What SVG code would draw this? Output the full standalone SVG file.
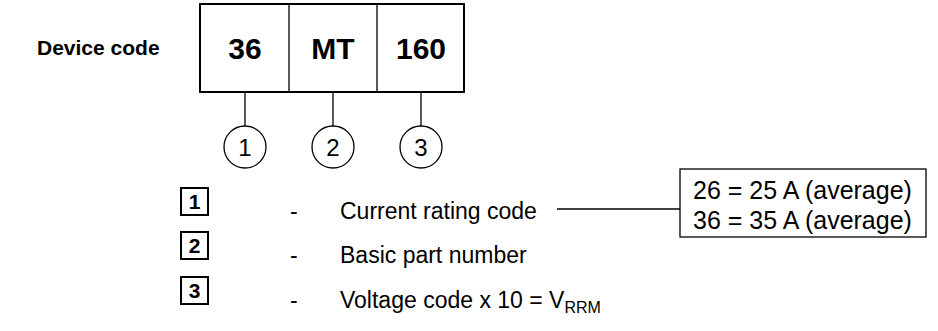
<svg xmlns="http://www.w3.org/2000/svg" width="938" height="331" viewBox="0 0 938 331">
<style>
text{font-family:"Liberation Sans",Arial,sans-serif;fill:#000}
.b{font-weight:bold}
.ln{stroke:#000;stroke-width:1.3;fill:none}
.bx{stroke:#000;stroke-width:2;fill:#fff}
.sb{stroke:#000;stroke-width:2;fill:#fff}
.c{stroke:#000;stroke-width:1.3;fill:#fff}
.t{font-size:23px}
.r{font-size:25px}
</style>
<rect width="938" height="331" fill="#fff"/>
<g id="label"><text x="37" y="55" class="b" font-size="21">Device code</text></g>
<g id="code-box">
<rect class="bx" x="200" y="4" width="264" height="88"/>
<line class="ln" x1="289" y1="4" x2="289" y2="92"/>
<line class="ln" x1="377" y1="4" x2="377" y2="92"/>
<text x="245" y="59" class="b" font-size="30" text-anchor="middle">36</text>
<text x="333" y="59" class="b" font-size="30" text-anchor="middle">MT</text>
<text x="421" y="59" class="b" font-size="30" text-anchor="middle">160</text>
</g>
<g id="connectors">
<line class="ln" x1="245" y1="92" x2="245" y2="127"/>
<line class="ln" x1="333" y1="92" x2="333" y2="127"/>
<line class="ln" x1="421" y1="92" x2="421" y2="127"/>
<line class="ln" x1="557" y1="209" x2="680" y2="209"/>
</g>
<g id="c1"><circle class="c" cx="245" cy="147" r="21"/><text x="245" y="156" font-size="24" text-anchor="middle">1</text></g>
<g id="c2"><circle class="c" cx="333" cy="147" r="21"/><text x="333" y="156" font-size="24" text-anchor="middle">2</text></g>
<g id="c3"><circle class="c" cx="421" cy="147" r="21"/><text x="421" y="156" font-size="24" text-anchor="middle">3</text></g>
<g id="k1"><rect class="sb" x="181" y="188" width="27" height="27"/><text x="194.5" y="209" class="b" font-size="21" text-anchor="middle">1</text>
<text x="290" y="219" class="t">-</text><text x="340" y="219" class="t">Current rating code</text></g>
<g id="k2"><rect class="sb" x="181" y="232" width="27" height="27"/><text x="194.5" y="253" class="b" font-size="21" text-anchor="middle">2</text>
<text x="290" y="263" class="t">-</text><text x="340" y="263" class="t">Basic part number</text></g>
<g id="k3"><rect class="sb" x="181" y="277" width="27" height="27"/><text x="194.5" y="298" class="b" font-size="21" text-anchor="middle">3</text>
<text x="290" y="308" class="t">-</text><text x="340" y="308" class="t">Voltage code x 10 = V<tspan font-size="16" dy="5">RRM</tspan></text></g>
<g id="ratings"><rect x="680" y="169" width="246" height="68" fill="#fff" stroke="#000" stroke-width="1.3"/>
<text x="693" y="199" class="r">26 = 25 A (average)</text>
<text x="693" y="229" class="r">36 = 35 A (average)</text></g>
</svg>
